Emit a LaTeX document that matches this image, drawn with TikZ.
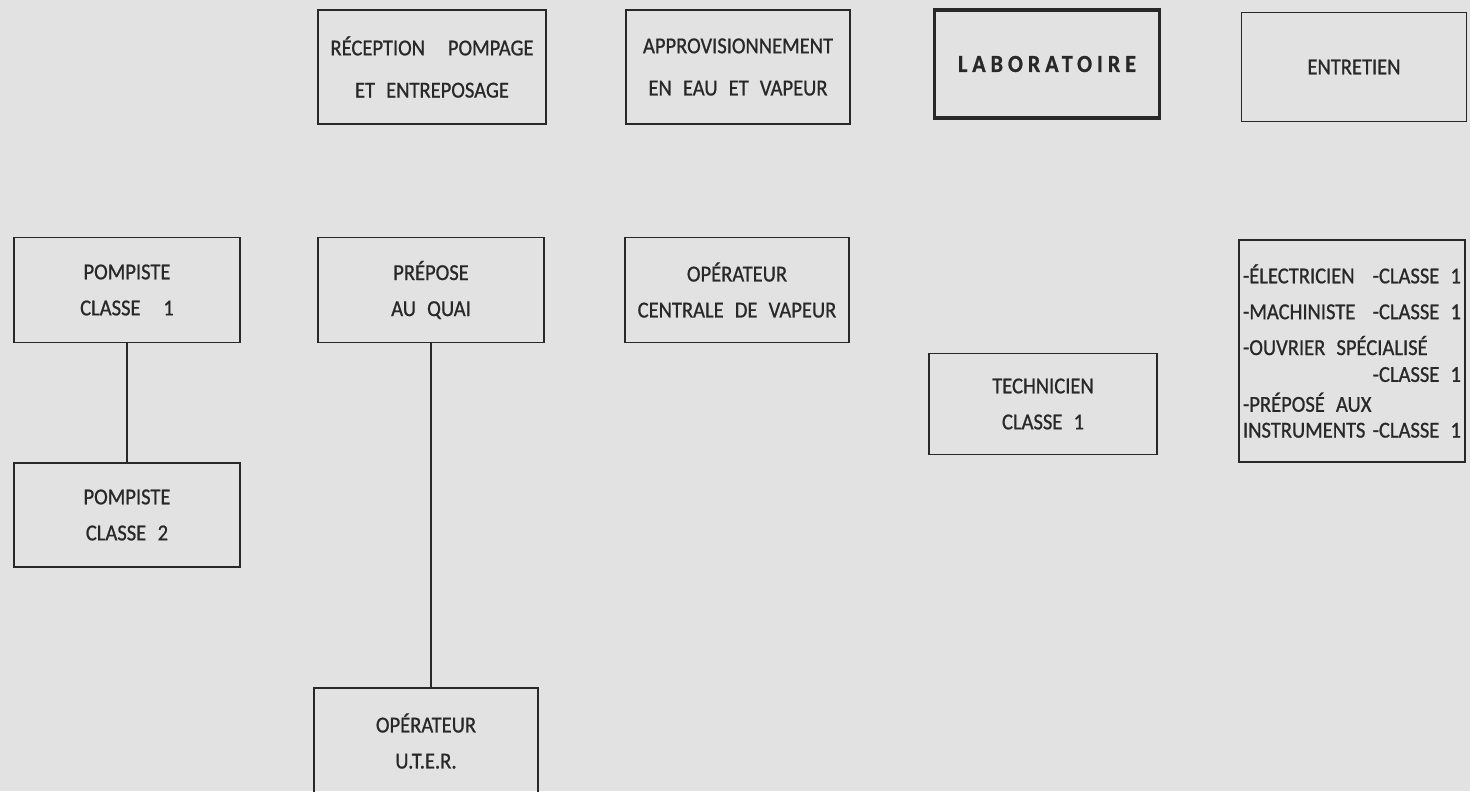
\documentclass[tikz,border=0pt]{standalone}
\usepackage{fontspec}
\setmainfont{Carlito}[FakeStretch=0.9, FakeBold=0.8, WordSpace=2.4]
\usepackage{xcolor}
\usetikzlibrary{positioning}
\definecolor{paper}{RGB}{226,226,226}
\definecolor{ink}{RGB}{40,40,40}

\begin{document}
\begin{tikzpicture}[
        x=0.02cm, y=-0.02cm,
        every node/.style={font=\fontsize{13}{20.5}\selectfont, text=ink},
        poste/.style={rectangle, draw=ink, line width=0.9pt, minimum width=4.5cm, minimum height=2.1cm, align=center, inner sep=0pt},
        service/.style={poste, minimum height=2.22cm, font=\fontsize{13}{24}\selectfont},
        lien/.style={draw=ink, line width=0.9pt}
    ]
%
    \useasboundingbox (0,0) rectangle (1470,791);
    \fill[paper] (0,0) rectangle (1470,791);
%
    % Services
    \node[service, minimum width=4.56cm, minimum height=2.28cm] (recep) at (432, 67) {R\'ECEPTION\quad POMPAGE\\ET ENTREPOSAGE};
    \node[service, minimum width=4.48cm, minimum height=2.28cm] (appro) at (738, 67) {APPROVISIONNEMENT\\EN EAU ET VAPEUR};
    \node[service, line width=1.8pt, minimum height=2.16cm, font=\fontsize{14}{24}\selectfont\bfseries] (labo) at (1047, 64) {\addfontfeature{LetterSpace=20}LABORATOIRE};
    \node[service, minimum height=2.18cm] (entre) at (1354, 67) {ENTRETIEN};
%
    % Postes
    \node[poste, minimum width=4.52cm] (pomp1) at (127, 290) {POMPISTE\\CLASSE\quad 1};
    \node[poste, minimum width=4.52cm] (prepose) at (431, 290) {PR\'EPOSE\\AU QUAI};
    \node[poste, minimum width=4.48cm] (opcent) at (737, 290) {OP\'ERATEUR\\CENTRALE DE VAPEUR};
    \node[poste, minimum width=4.56cm, minimum height=2.02cm] (techn) at (1043, 404) {TECHNICIEN\\CLASSE 1};
    \node[poste, minimum width=4.52cm, minimum height=4.44cm, align=left, font=\fontsize{13}{14.7}\selectfont] (elec) at (1352, 351) {%
        \makebox[4.36cm]{-\'ELECTRICIEN\hfill-CLASSE 1}\\[5.7pt]
        \makebox[4.36cm]{-MACHINISTE\hfill-CLASSE 1}\\[5.7pt]
        -OUVRIER SP\'ECIALIS\'E\\[0.6pt]
        \makebox[4.36cm][r]{-CLASSE 1}\\[2.3pt]
        -PR\'EPOS\'E AUX\\
        \makebox[4.36cm]{INSTRUMENTS\hfill-CLASSE 1}};
    \node[poste, minimum width=4.52cm, minimum height=2.08cm] (pomp2) at (127, 515) {POMPISTE\\CLASSE\enspace 2};
    \node[poste, minimum width=4.48cm, minimum height=2.12cm] (uter) at (426, 741) {OP\'ERATEUR\\U.T.E.R.};
%
    % Liens
    \draw[lien] (pomp1.south) -- (pomp2.north);
    \draw[lien] (prepose.south) -- (prepose.south |- uter.north);
%
\end{tikzpicture}
\end{document}
